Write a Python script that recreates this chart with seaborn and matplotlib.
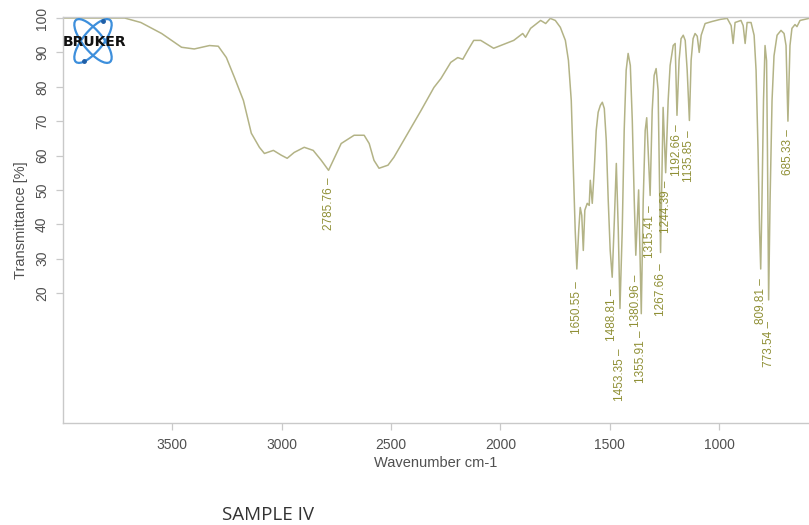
import matplotlib
matplotlib.use("Agg")
import matplotlib.pyplot as plt
from matplotlib.patches import Ellipse
import pandas as pd
import seaborn as sns

# IR spectrum, SAMPLE IV: wavenumber (cm-1) and transmittance (%)
wavenumber = [
    4000, 3718, 3644, 3549, 3458, 3400, 3330, 3290, 3253, 3216, 3175, 3139, 3102,
    3079, 3038, 3002, 2975, 2943, 2897, 2856, 2819, 2785.76, 2760, 2728, 2669,
    2623, 2600, 2578, 2555, 2514, 2487, 2423, 2363, 2304, 2272, 2227, 2195, 2172,
    2149, 2122, 2090, 2031, 1999, 1939, 1898, 1885, 1862, 1816, 1793, 1772, 1749,
    1726, 1703, 1689, 1676, 1667, 1658, 1650.55, 1642, 1635, 1628, 1621, 1614,
    1603, 1594, 1589, 1580, 1571, 1562, 1553, 1543, 1534, 1525, 1516, 1507, 1498,
    1488.81, 1479, 1470, 1461, 1453.35, 1443, 1434, 1425, 1416, 1406, 1397, 1388,
    1380.96, 1368, 1355.91, 1347, 1338, 1331, 1315.41, 1306, 1297, 1288, 1279,
    1267.66, 1256, 1244.39, 1233, 1224, 1210, 1201, 1192.66, 1183, 1174, 1164,
    1155, 1146, 1135.85, 1128, 1119, 1110, 1100, 1091, 1082, 1064, 1032, 995, 963,
    945, 936, 927, 900, 890, 881, 872, 854, 840, 831, 822, 815, 809.81, 804, 797,
    790, 783, 779, 773.54, 767, 758, 749, 735, 717, 703, 694, 685.33, 676, 667,
    653, 644, 630, 589,
]
transmittance = [
    100.0, 100.0, 98.7, 95.5, 91.5, 91.0, 92.0, 91.8, 88.5, 82.7, 76.0, 66.5, 62.4,
    60.6, 61.5, 60.1, 59.2, 60.9, 62.4, 61.5, 58.6, 55.7, 59.2, 63.5, 65.9,
    65.9, 63.5, 58.6, 56.3, 57.2, 59.5, 66.5, 73.1, 79.8, 82.4, 87.1, 88.5, 88.0,
    90.6, 93.5, 93.5, 91.2, 92.0, 93.5, 95.5, 94.4, 97.0, 99.3, 98.4, 99.9, 99.3,
    97.3, 93.5, 87.7, 76.0, 56.6, 38.2, 27.0, 38.2, 44.9, 42.6, 32.4, 44.1,
    46.1, 45.5, 52.8, 46.1, 55.7, 67.3, 72.6, 74.6, 75.5, 73.7, 64.4, 47.0, 32.4,
    24.6, 41.2, 57.7, 38.2, 15.5, 38.2, 67.3, 84.8, 89.7, 86.2, 70.2, 46.9,
    31.0, 50.0, 14.0, 47.0, 67.3, 71.0, 48.4, 73.0, 83.3, 85.3, 79.0,
    31.8, 74.0, 55.0, 76.0, 86.2, 92.0, 92.6, 71.7, 87.7, 94.0, 95.0,
    93.5, 84.8, 70.2, 87.7, 94.0, 95.5, 94.7, 90.0, 95.0, 98.4, 99.0, 99.6, 99.9,
    97.8, 92.6, 98.7, 99.3, 97.8, 92.6, 98.7, 98.7, 95.0, 84.8, 61.5, 38.0, 27.0, 47.0, 76.0,
    92.0, 87.6, 61.5, 18.0, 47.0, 76.0, 89.0, 95.0, 96.4, 95.5, 92.0, 70.0, 92.0, 97.0,
    98.1, 97.5, 99.3, 99.9,
]

# labelled band positions (cm-1)
peak_wavenumber = [2785.76, 1650.55, 1488.81, 1453.35, 1380.96, 1355.91, 1315.41,
                   1267.66, 1244.39, 1192.66, 1135.85, 809.81, 773.54, 685.33]

x_ticks = [3500, 3000, 2500, 2000, 1500, 1000]
y_ticks = [20, 30, 40, 50, 60, 70, 80, 90, 100]

# label drop below each band minimum, in points (staggered where labels crowd)
label_gap_pt = [5, 8.5, 8.5, 29, 14, 12, 7, 8, 6, 6.5, 7, 7, 15.5, 6]

sns.set_theme(style="ticks")
plt.rcParams["font.family"] = ["Liberation Sans", "DejaVu Sans"]

LINE = "#b3b386"
LABEL = "#8f8f35"
SPINE = "#c9c9c9"
TEXT = "#505050"

spectrum = pd.DataFrame({"wavenumber": wavenumber, "transmittance": transmittance})

W, H = 809, 525
fig = plt.figure(figsize=(W / 100, H / 100), dpi=100)
ax = fig.add_axes([63 / W, 1 - 423 / H, 1 - 63 / W, (423 - 17) / H])

sns.lineplot(data=spectrum, x="wavenumber", y="transmittance", sort=False,
             estimator=None, color=LINE, lw=1.1, ax=ax)

ax.set_xlim(4000, 589)
ax.set_ylim(-17.8, 100.3)
ax.set_xticks(x_ticks)
ax.set_yticks(y_ticks)
ax.set_xticklabels([str(v) for v in x_ticks])
ax.set_yticklabels([str(v) for v in y_ticks])
ax.tick_params(axis="both", colors=SPINE, labelcolor=TEXT, labelsize=10,
               length=5, width=0.9)
ax.tick_params(axis="x", pad=6)
ax.tick_params(axis="y", pad=5, labelrotation=90)
for lbl in ax.get_yticklabels():
    lbl.set_va("center")

for side in ("left", "bottom", "top"):
    ax.spines[side].set_color(SPINE)
    ax.spines[side].set_linewidth(1.0)
ax.spines["right"].set_visible(False)

ax.set_xlabel("Wavenumber cm-1", fontsize=10.5, color=TEXT, labelpad=3)
ax.set_ylabel("Transmittance [%]", fontsize=10.5, color=TEXT, labelpad=5)

# band labels under each minimum
for wn, gap in zip(peak_wavenumber, label_gap_pt):
    t = spectrum.loc[spectrum["wavenumber"] == wn, "transmittance"].iloc[0]
    ax.annotate(f"{wn:.2f} \u2013", xy=(wn, t), xytext=(0, -gap),
                textcoords="offset points", rotation=90, ha="center", va="top",
                fontsize=8.5, color=LABEL)

# BRUKER logo in the top-left corner
logo = fig.add_axes([63 / W, 1 - 66 / H, 64 / W, 50 / H])
logo.set_xlim(0, 64)
logo.set_ylim(0, 50)
logo.axis("off")
for ang in (51, -51):
    logo.add_patch(Ellipse((30, 25), 54, 20, angle=ang, fill=False,
                           ec="#3d8fdc", lw=1.6))
logo.plot([21, 40], [5, 45], "o", ms=2.5, color="#1f5fa8", ls="none")
logo.text(32, 24, "BRUKER", ha="center", va="center", fontsize=10,
          fontweight="bold", color="#111111", family="DejaVu Sans")

fig.text(222 / W, 1 - 520 / H, "SAMPLE IV", fontsize=13.5, color="#333333",
         family="Open Sans", ha="left", va="baseline")

fig.savefig("out.png", dpi=100)
